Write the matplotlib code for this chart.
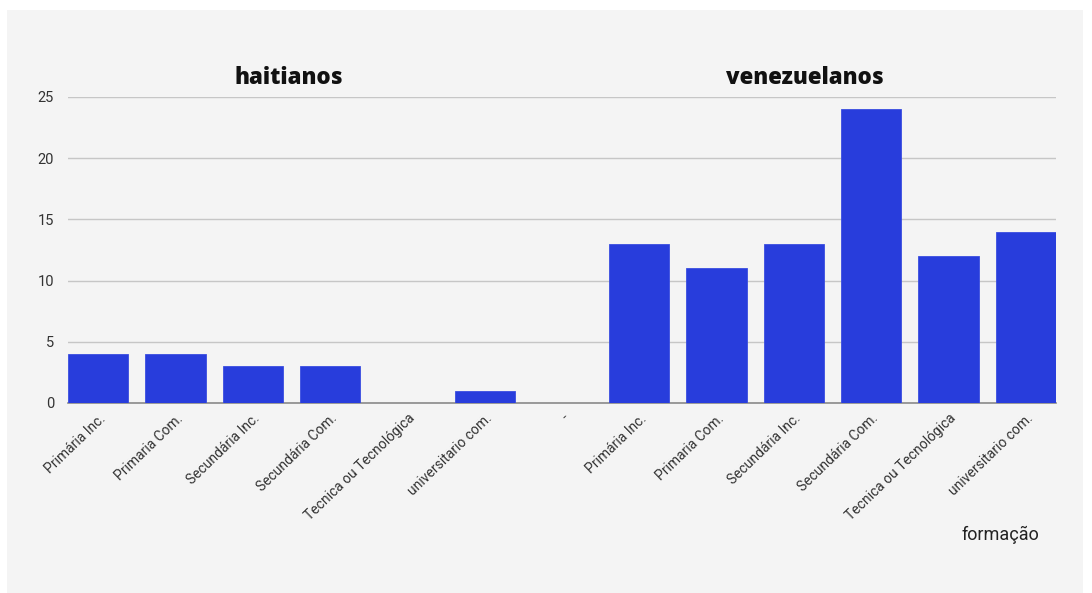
import matplotlib
matplotlib.use("Agg")
import matplotlib.pyplot as plt
from matplotlib.patches import Rectangle

categories = ["Primária Inc.", "Primaria Com.", "Secundária Inc.", "Secundária Com.",
              "Tecnica ou Tecnológica", "universitario com.", "-",
              "Primária Inc.", "Primaria Com.", "Secundária Inc.", "Secundária Com.",
              "Tecnica ou Tecnológica", "universitario com."]
values = [4, 4, 3, 3, 0, 1, 0, 13, 11, 13, 24, 12, 14]
yticks = [0, 5, 10, 15, 20, 25]
group_titles = ["haitianos", "venezuelanos"]
xlabel = "formação"

W, H = 1092, 593
fig = plt.figure(figsize=(W / 100, H / 100), dpi=100, facecolor="white")
fig.patches.append(Rectangle((7 / W, 0), (1083 - 7) / W, 1 - 10 / H,
                             transform=fig.transFigure, facecolor="#f4f4f4",
                             edgecolor="none", zorder=-10))

ax = fig.add_axes([68 / W, 1 - 403 / H, (1056 - 68) / W, (403 - 97) / H])
ax.set_facecolor("none")

x = list(range(len(categories)))
ax.bar(x, values, width=0.78, color="#283ddc", edgecolor="#3a4de0", linewidth=0.6, zorder=3)

ax.set_xlim(-0.39, 12.39)
ax.set_ylim(0, 25)
ax.set_yticks(yticks)
ax.set_yticklabels([str(v) for v in yticks], fontsize=10.5, color="#333333", family="Roboto")
ax.tick_params(axis="y", length=0, pad=10)
ax.grid(axis="y", color="#c6c6c6", linewidth=1, zorder=0)
ax.set_axisbelow(True)
for s in ["top", "right", "left"]:
    ax.spines[s].set_visible(False)
ax.spines["bottom"].set_color("#8a8a8a")
ax.spines["bottom"].set_linewidth(1.2)

ax.set_xticks(x)
ax.set_xticklabels(categories, rotation=44, ha="right", rotation_mode="anchor",
                   fontsize=10, color="#333333", family="Roboto")
ax.tick_params(axis="x", length=0, pad=6)

fig.text(289 / W, 1 - 78 / H, group_titles[0], ha="center", va="center",
         fontsize=16, fontweight="heavy", family="Open Sans", color="#111111")
fig.text(805 / W, 1 - 78 / H, group_titles[1], ha="center", va="center",
         fontsize=16, fontweight="heavy", family="Open Sans", color="#111111")
fig.text(1000 / W, 1 - 535 / H, xlabel, ha="center", va="center",
         fontsize=13, family="Roboto", color="#222222")

fig.savefig("out.png", dpi=100, facecolor="white")
